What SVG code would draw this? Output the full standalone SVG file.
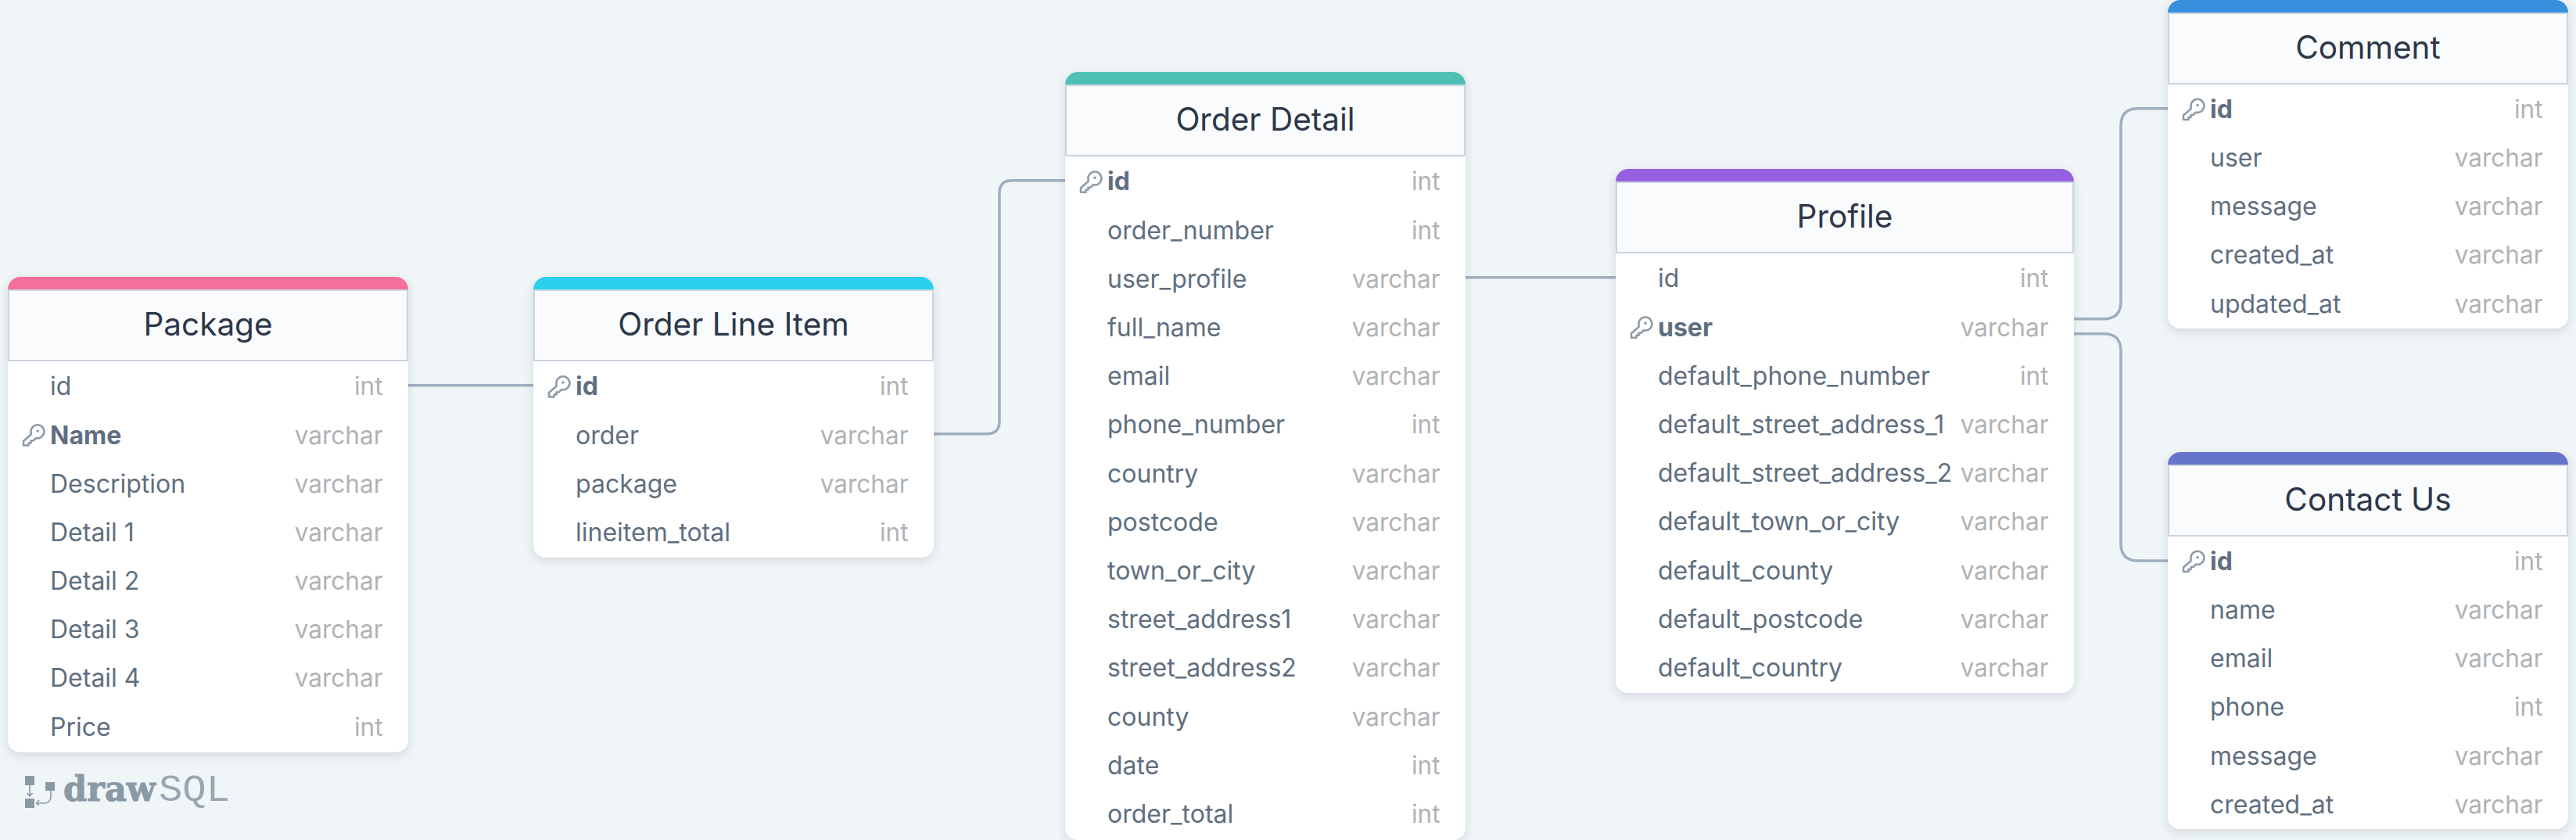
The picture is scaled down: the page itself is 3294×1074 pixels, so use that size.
<svg xmlns="http://www.w3.org/2000/svg" width="3294" height="1074" viewBox="0 0 3294 1074">
<style>
text{font-family:Inter,"Noto Sans","Liberation Sans",sans-serif}
.card{fill:#fff;filter:url(#sh)}
.head{fill:#f9fbfd;stroke:#cbd5e0;stroke-width:2}
.title{font-size:40.500px;font-weight:400;fill:#2d3748;text-anchor:middle}
.n{font-size:32px;fill:#5f6f80}
.k{font-size:32px;font-weight:700;fill:#5f6f80}
.t{font-size:31.500px;fill:#b0b3b6;text-anchor:end}
.conn{fill:none;stroke:#a0aec0;stroke-width:3.500}
.keyi{fill:none;stroke:#8f9ba8;stroke-width:2.600;stroke-linejoin:round}
</style>
<defs>
<filter id="sh" x="-10%" y="-10%" width="120%" height="120%"><feDropShadow dx="0" dy="4" stdDeviation="6" flood-color="#2d3748" flood-opacity="0.16"/></filter>
<symbol id="key" width="28" height="28" viewBox="0 0 28 28" overflow="visible"><path class="keyi" d="M11.500 9.500A8.500 8.500 0 1 1 18 16.600L14.500 20H11.500V23H8.500V26H2V20.500L11.700 12Z"/><circle cx="20" cy="7.500" r="1.800" fill="#8f9ba8"/></symbol>
</defs>
<rect width="3294" height="1074" fill="#f0f5f8"/>
<g id="connectors">
<path class="conn" d="M522 492.700H683"/>
<path class="conn" d="M1194 554.700H1262Q1278 554.700 1278 538.700V246.700Q1278 230.700 1294 230.700H1362"/>
<path class="conn" d="M1874 354.700H2066"/>
<path class="conn" d="M2652 407.700H2690Q2712 407.700 2712 385.700V160.700Q2712 138.700 2734 138.700H2772"/>
<path class="conn" d="M2652 426.700H2690Q2712 426.700 2712 448.700V695Q2712 717 2734 717H2772"/>
</g>
<g id="package" transform="translate(10,354)">
<rect class="card" width="512" height="607.700" rx="16"/>
<path d="M0 17a16 16 0 0 1 16-16h480a16 16 0 0 1 16 16z" transform="translate(0,-1)" fill="#f56f9b"/>
<rect class="head" x="1" y="17" width="510" height="90"/>
<text class="title" x="256" y="75">Package</text>
<g transform="translate(0,-0.500)">
<text class="n" x="54" y="151.700">id</text><text class="t" x="479.500" y="151.700">int</text>
<use href="#key" x="18" y="190"/><text class="k" x="54" y="214">Name</text><text class="t" x="479.500" y="214">varchar</text>
<text class="n" x="54" y="276.100">Description</text><text class="t" x="479.500" y="276.100">varchar</text>
<text class="n" x="54" y="338.300">Detail 1</text><text class="t" x="479.500" y="338.300">varchar</text>
<text class="n" x="54" y="400.500">Detail 2</text><text class="t" x="479.500" y="400.500">varchar</text>
<text class="n" x="54" y="462.700">Detail 3</text><text class="t" x="479.500" y="462.700">varchar</text>
<text class="n" x="54" y="524.900">Detail 4</text><text class="t" x="479.500" y="524.900">varchar</text>
<text class="n" x="54" y="587.100">Price</text><text class="t" x="479.500" y="587.100">int</text>
</g>
</g>
<g id="order-line-item" transform="translate(682,354)">
<rect class="card" width="512" height="358.800" rx="16"/>
<path d="M0 17a16 16 0 0 1 16-16h480a16 16 0 0 1 16 16z" transform="translate(0,-1)" fill="#2bd0ed"/>
<rect class="head" x="1" y="17" width="510" height="90"/>
<text class="title" x="256" y="75">Order Line Item</text>
<g transform="translate(0,-0.500)">
<use href="#key" x="18" y="128"/><text class="k" x="54" y="151.700">id</text><text class="t" x="479.500" y="151.700">int</text>
<text class="n" x="54" y="214">order</text><text class="t" x="479.500" y="214">varchar</text>
<text class="n" x="54" y="276.100">package</text><text class="t" x="479.500" y="276.100">varchar</text>
<text class="n" x="54" y="338.300">lineitem_total</text><text class="t" x="479.500" y="338.300">int</text>
</g>
</g>
<g id="order-detail" transform="translate(1362,92)">
<rect class="card" width="512" height="982" rx="16"/>
<path d="M0 17a16 16 0 0 1 16-16h480a16 16 0 0 1 16 16z" transform="translate(0,-1)" fill="#4fc0b4"/>
<rect class="head" x="1" y="17" width="510" height="90"/>
<text class="title" x="256" y="75">Order Detail</text>
<g transform="translate(0,-0.300)">
<use href="#key" x="18" y="128"/><text class="k" x="54" y="151.700">id</text><text class="t" x="479.500" y="151.700">int</text>
<text class="n" x="54" y="214">order_number</text><text class="t" x="479.500" y="214">int</text>
<text class="n" x="54" y="276.100">user_profile</text><text class="t" x="479.500" y="276.100">varchar</text>
<text class="n" x="54" y="338.300">full_name</text><text class="t" x="479.500" y="338.300">varchar</text>
<text class="n" x="54" y="400.500">email</text><text class="t" x="479.500" y="400.500">varchar</text>
<text class="n" x="54" y="462.700">phone_number</text><text class="t" x="479.500" y="462.700">int</text>
<text class="n" x="54" y="524.900">country</text><text class="t" x="479.500" y="524.900">varchar</text>
<text class="n" x="54" y="587.100">postcode</text><text class="t" x="479.500" y="587.100">varchar</text>
<text class="n" x="54" y="649.300">town_or_city</text><text class="t" x="479.500" y="649.300">varchar</text>
<text class="n" x="54" y="711.500">street_address1</text><text class="t" x="479.500" y="711.500">varchar</text>
<text class="n" x="54" y="773.700">street_address2</text><text class="t" x="479.500" y="773.700">varchar</text>
<text class="n" x="54" y="835.900">county</text><text class="t" x="479.500" y="835.900">varchar</text>
<text class="n" x="54" y="898.100">date</text><text class="t" x="479.500" y="898.100">int</text>
<text class="n" x="54" y="960.300">order_total</text><text class="t" x="479.500" y="960.300">int</text>
</g>
</g>
<g id="profile" transform="translate(2066,216)">
<rect class="card" width="586" height="670" rx="16"/>
<path d="M0 17a16 16 0 0 1 16-16h554a16 16 0 0 1 16 16z" transform="translate(0,-1)" fill="#9560e0"/>
<rect class="head" x="1" y="17" width="584" height="90"/>
<text class="title" x="293" y="75">Profile</text>
<g transform="translate(0,-0.300)">
<text class="n" x="54" y="151.700">id</text><text class="t" x="553.500" y="151.700">int</text>
<use href="#key" x="18" y="190"/><text class="k" x="54" y="214">user</text><text class="t" x="553.500" y="214">varchar</text>
<text class="n" x="54" y="276.100">default_phone_number</text><text class="t" x="553.500" y="276.100">int</text>
<text class="n" x="54" y="338.300">default_street_address_1</text><text class="t" x="553.500" y="338.300">varchar</text>
<text class="n" x="54" y="400.500">default_street_address_2</text><text class="t" x="553.500" y="400.500">varchar</text>
<text class="n" x="54" y="462.700">default_town_or_city</text><text class="t" x="553.500" y="462.700">varchar</text>
<text class="n" x="54" y="524.900">default_county</text><text class="t" x="553.500" y="524.900">varchar</text>
<text class="n" x="54" y="587.100">default_postcode</text><text class="t" x="553.500" y="587.100">varchar</text>
<text class="n" x="54" y="649.300">default_country</text><text class="t" x="553.500" y="649.300">varchar</text>
</g>
</g>
<g id="comment" transform="translate(2772,0)">
<rect class="card" width="512" height="420" rx="16"/>
<path d="M0 17a16 16 0 0 1 16-16h480a16 16 0 0 1 16 16z" transform="translate(0,-1)" fill="#358fdd"/>
<rect class="head" x="1" y="17" width="510" height="90"/>
<text class="title" x="256" y="75">Comment</text>
<g transform="translate(0,-1)">
<use href="#key" x="18" y="128"/><text class="k" x="54" y="151.700">id</text><text class="t" x="479.500" y="151.700">int</text>
<text class="n" x="54" y="214">user</text><text class="t" x="479.500" y="214">varchar</text>
<text class="n" x="54" y="276.100">message</text><text class="t" x="479.500" y="276.100">varchar</text>
<text class="n" x="54" y="338.300">created_at</text><text class="t" x="479.500" y="338.300">varchar</text>
<text class="n" x="54" y="400.500">updated_at</text><text class="t" x="479.500" y="400.500">varchar</text>
</g>
</g>
<g id="contact-us" transform="translate(2772,578)">
<rect class="card" width="512" height="482" rx="16"/>
<path d="M0 17a16 16 0 0 1 16-16h480a16 16 0 0 1 16 16z" transform="translate(0,-1)" fill="#6675cc"/>
<rect class="head" x="1" y="17" width="510" height="90"/>
<text class="title" x="256" y="75">Contact Us</text>
<g transform="translate(0,-1)">
<use href="#key" x="18" y="128"/><text class="k" x="54" y="151.700">id</text><text class="t" x="479.500" y="151.700">int</text>
<text class="n" x="54" y="214">name</text><text class="t" x="479.500" y="214">varchar</text>
<text class="n" x="54" y="276.100">email</text><text class="t" x="479.500" y="276.100">varchar</text>
<text class="n" x="54" y="338.300">phone</text><text class="t" x="479.500" y="338.300">int</text>
<text class="n" x="54" y="400.500">message</text><text class="t" x="479.500" y="400.500">varchar</text>
<text class="n" x="54" y="462.700">created_at</text><text class="t" x="479.500" y="462.700">varchar</text>
</g>
</g>
<g id="logo">
<rect x="32" y="992" width="12" height="12" fill="#8a99a6"/>
<rect x="32" y="1021" width="12" height="12" fill="#8a99a6"/>
<rect x="58" y="1000" width="12" height="11" fill="#8a99a6"/>
<path d="M38 1004V1018M34.500 1014L38 1018L41.500 1014M65 1011V1018Q65 1027 56 1027H47M50 1023L46.500 1027L50 1030" fill="none" stroke="#8a99a6" stroke-width="1.600"/>
<text x="81" y="1024" font-size="44" font-weight="700" textLength="118" lengthAdjust="spacingAndGlyphs" fill="#8a99a6" stroke="#8a99a6" stroke-width="1" style="font-family:'DejaVu Serif','Liberation Serif',serif">draw</text>
<text x="203" y="1024" font-size="49" textLength="91" lengthAdjust="spacingAndGlyphs" fill="#9aa7b3" style="font-family:'Liberation Mono','DejaVu Sans Mono',monospace">SQL</text>
</g>
</svg>
